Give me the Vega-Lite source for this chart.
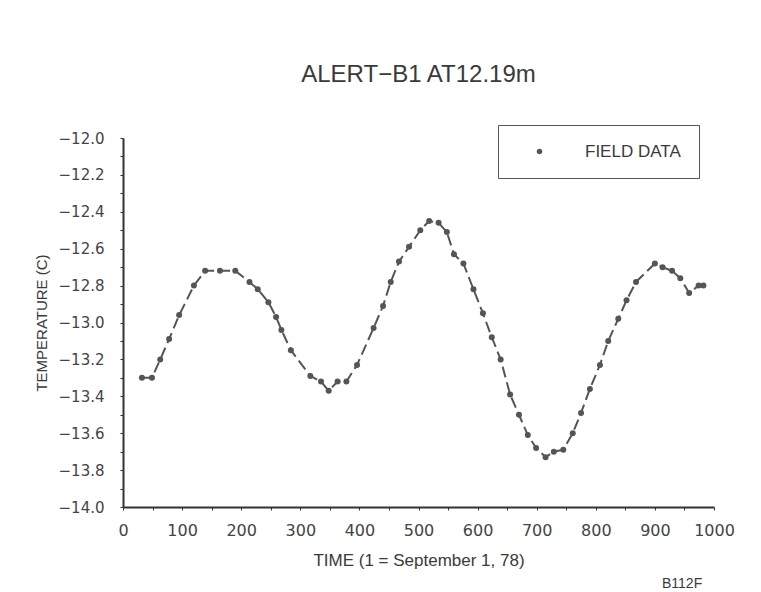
{
  "$schema": "https://vega.github.io/schema/vega-lite/v6.json",
  "width": 591,
  "height": 369,
  "autosize": {"type": "none"},
  "padding": {"left": 123, "top": 138, "right": 47, "bottom": 85},
  "background": "white",
  "title": {
    "text": "ALERT−B1 AT12.19m",
    "font": "Liberation Sans",
    "fontSize": 24,
    "fontWeight": "normal",
    "color": "#3a3a3a",
    "anchor": "middle",
    "offset": 38
  },
  "config": {
    "view": {"stroke": null},
    "axis": {
      "grid": false,
      "domainColor": "#333",
      "domainWidth": 2,
      "tickColor": "#333",
      "tickSize": 3,
      "labelColor": "#444",
      "titleColor": "#3a3a3a",
      "labelFont": "DejaVu Sans",
      "titleFont": "Liberation Sans",
      "titleFontWeight": "normal"
    }
  },
  "data": {
    "values": [
      {"t": 32, "temp": -13.30},
      {"t": 49, "temp": -13.30},
      {"t": 63, "temp": -13.20},
      {"t": 78, "temp": -13.09},
      {"t": 95, "temp": -12.96},
      {"t": 120, "temp": -12.80},
      {"t": 139, "temp": -12.72},
      {"t": 164, "temp": -12.72},
      {"t": 190, "temp": -12.72},
      {"t": 214, "temp": -12.78},
      {"t": 228, "temp": -12.82},
      {"t": 246, "temp": -12.89},
      {"t": 259, "temp": -12.97},
      {"t": 268, "temp": -13.04},
      {"t": 284, "temp": -13.15},
      {"t": 317, "temp": -13.29},
      {"t": 335, "temp": -13.32},
      {"t": 348, "temp": -13.37},
      {"t": 363, "temp": -13.32},
      {"t": 378, "temp": -13.32},
      {"t": 396, "temp": -13.23},
      {"t": 424, "temp": -13.03},
      {"t": 440, "temp": -12.91},
      {"t": 453, "temp": -12.78},
      {"t": 467, "temp": -12.67},
      {"t": 484, "temp": -12.59},
      {"t": 503, "temp": -12.50},
      {"t": 518, "temp": -12.45},
      {"t": 534, "temp": -12.46},
      {"t": 548, "temp": -12.51},
      {"t": 560, "temp": -12.63},
      {"t": 576, "temp": -12.68},
      {"t": 593, "temp": -12.82},
      {"t": 609, "temp": -12.95},
      {"t": 624, "temp": -13.08},
      {"t": 639, "temp": -13.20},
      {"t": 655, "temp": -13.39},
      {"t": 670, "temp": -13.50},
      {"t": 685, "temp": -13.61},
      {"t": 699, "temp": -13.68},
      {"t": 715, "temp": -13.73},
      {"t": 729, "temp": -13.70},
      {"t": 745, "temp": -13.69},
      {"t": 761, "temp": -13.60},
      {"t": 775, "temp": -13.49},
      {"t": 790, "temp": -13.36},
      {"t": 807, "temp": -13.23},
      {"t": 821, "temp": -13.10},
      {"t": 838, "temp": -12.98},
      {"t": 852, "temp": -12.88},
      {"t": 868, "temp": -12.78},
      {"t": 900, "temp": -12.68},
      {"t": 913, "temp": -12.70},
      {"t": 929, "temp": -12.72},
      {"t": 943, "temp": -12.76},
      {"t": 958, "temp": -12.84},
      {"t": 974, "temp": -12.80},
      {"t": 982, "temp": -12.80}
    ]
  },
  "encoding": {
    "x": {
      "field": "t",
      "type": "quantitative",
      "scale": {"domain": [0, 1000], "nice": false, "zero": false},
      "axis": {
        "title": "TIME (1 = September 1, 78)",
        "titleFontSize": 17,
        "titlePadding": 14,
        "values": [0, 50, 100, 150, 200, 250, 300, 350, 400, 450, 500, 550, 600, 650, 700, 750, 800, 850, 900, 950, 1000],
        "format": "d",
        "labelExpr": "datum.value % 100 == 0 ? datum.label : ''",
        "labelFontSize": 16,
        "labelPadding": 12,
        "labelFlush": false,
        "labelOverlap": false
      }
    },
    "y": {
      "field": "temp",
      "type": "quantitative",
      "scale": {"domain": [-14, -12], "nice": false, "zero": false},
      "axis": {
        "title": "TEMPERATURE (C)",
        "titleFontSize": 15,
        "titlePadding": 9,
        "values": [-14, -13.9, -13.8, -13.7, -13.6, -13.5, -13.4, -13.3, -13.2, -13.1, -13, -12.9, -12.8, -12.7, -12.6, -12.5, -12.4, -12.3, -12.2, -12.1, -12],
        "format": ".1f",
        "labelExpr": "round(datum.value * 10) % 2 == 0 ? datum.label : ''",
        "labelFontSize": 15,
        "labelPadding": 16,
        "labelOverlap": false
      }
    }
  },
  "layer": [
    {
      "mark": {"type": "line", "color": "#555555", "strokeWidth": 2, "strokeDash": [11, 5]}
    },
    {
      "mark": {"type": "point", "filled": true, "size": 36, "opacity": 1, "shape": "circle"},
      "encoding": {
        "color": {
          "datum": "FIELD DATA",
          "scale": {"range": ["#555555"]},
          "legend": {
            "title": null,
            "orient": "none",
            "legendX": 375,
            "legendY": -13,
            "strokeColor": "#555",
            "padding": 18,
            "symbolOffset": 15,
            "labelOffset": 37,
            "labelFont": "Liberation Sans",
            "labelFontSize": 17,
            "labelColor": "#3a3a3a",
            "symbolSize": 30,
            "symbolType": "circle"
          }
        }
      }
    },
    {
      "data": {"values": [{"code": "B112F", "t": 946, "temp": -14.415}]},
      "mark": {"type": "text", "font": "Liberation Sans", "fontSize": 14, "color": "#3a3a3a", "align": "center", "baseline": "middle", "clip": false},
      "encoding": {
        "text": {"field": "code"}
      }
    }
  ]
}
